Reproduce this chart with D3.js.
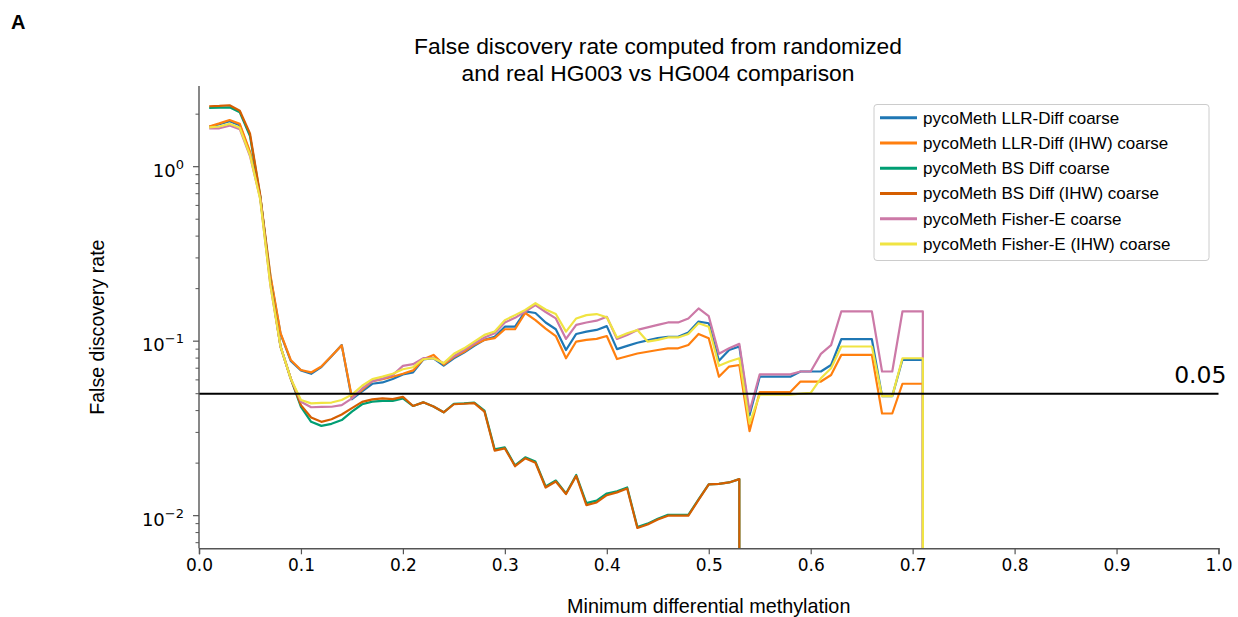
<!DOCTYPE html>
<html>
<head>
<meta charset="utf-8">
<script src="https://cdn.jsdelivr.net/npm/d3@7.9.0/dist/d3.min.js"></script>
<style>
  body { margin: 0; background: #fff; }
  svg { display: block; }
  .tick-label { font-family: "DejaVu Sans", sans-serif; font-size: 17px; fill: #000; }
  .lbl { font-family: "Liberation Sans", Arial, sans-serif; fill: #000; }
</style>
</head>
<body>
<svg id="chart" width="1238" height="617"></svg>
<script>
// x positions (minimum differential methylation)
const xValues = [0.01,0.02,0.03,0.04,0.05,0.06,0.07,0.08,0.09,0.10,
  0.11,0.12,0.13,0.14,0.15,0.16,0.17,0.18,0.19,0.20,
  0.21,0.22,0.23,0.24,0.25,0.26,0.27,0.28,0.29,0.30,
  0.31,0.32,0.33,0.34,0.35,0.36,0.37,0.38,0.39,0.40,
  0.41,0.42,0.43,0.44,0.45,0.46,0.47,0.48,0.49,0.50,
  0.51,0.52,0.53,0.54,0.55,0.56,0.57,0.58,0.59,0.60,
  0.61,0.62,0.63,0.64,0.65,0.66,0.67,0.68,0.69,0.70,
  0.71,0.72];

const llrDiff = [1.69,1.75,1.82,1.73,1.20,0.67,0.235,0.110,0.077,0.068,
  0.065,0.071,0.082,0.095,0.0465,0.0516,0.057,0.058,0.0607,0.0645,
  0.0662,0.0785,0.0798,0.0725,0.0798,0.086,0.094,0.1017,0.106,0.121,
  0.121,0.148,0.145,0.128,0.117,0.089,0.110,0.1135,0.116,0.122,
  0.090,0.094,0.098,0.101,0.104,0.106,0.106,0.112,0.1295,0.1267,
  0.0772,0.089,0.0932,0.0376,0.0626,0.0626,0.0626,0.0626,0.067,0.067,
  0.067,0.073,0.1026,0.1026,0.1026,0.1026,0.0484,0.0484,0.0782,0.0782,
  0.0782,0];

const llrDiffIhw = [1.70,1.77,1.85,1.76,1.22,0.68,0.24,0.111,0.078,0.0684,
  0.0662,0.0716,0.0823,0.0946,0.0476,0.0525,0.059,0.0605,0.0625,0.065,
  0.068,0.0788,0.0834,0.0735,0.081,0.087,0.0955,0.1017,0.104,0.117,
  0.117,0.145,0.132,0.118,0.107,0.0798,0.0995,0.1017,0.103,0.107,
  0.079,0.082,0.085,0.087,0.089,0.091,0.091,0.095,0.110,0.104,
  0.0626,0.0715,0.073,0.0305,0.0511,0.0511,0.0511,0.0511,0.0587,0.0587,
  0.0587,0.064,0.0834,0.0834,0.0834,0.0834,0.0385,0.0385,0.057,0.057,
  0.057,0];

const bsDiff = [2.17,2.18,2.19,2.05,1.50,0.68,0.22,0.093,0.061,0.042,
  0.0345,0.0327,0.0336,0.0353,0.0395,0.0435,0.045,0.0455,0.0455,0.047,
  0.0425,0.0446,0.0422,0.0391,0.0438,0.044,0.0445,0.040,0.024,0.0246,
  0.0194,0.0216,0.0204,0.0147,0.0159,0.0134,0.0171,0.0118,0.0122,0.0134,
  0.0138,0.0145,0.0086,0.009,0.0096,0.0101,0.0101,0.0101,0.0124,0.0151,
  0.0152,0.0155,0.0162,0];

const bsDiffIhw = [2.22,2.23,2.25,2.09,1.55,0.69,0.22,0.093,0.061,0.043,
  0.0365,0.0345,0.0357,0.038,0.0413,0.0449,0.0464,0.047,0.0465,0.0479,
  0.0425,0.0446,0.0422,0.0391,0.0435,0.0438,0.0442,0.0395,0.0236,0.0243,
  0.0192,0.0213,0.0201,0.0145,0.0157,0.0133,0.0169,0.0115,0.0119,0.0131,
  0.0136,0.0143,0.0085,0.0089,0.0095,0.0100,0.0100,0.0100,0.0123,0.0151,
  0.0152,0.0155,0.0162,0];

const fisherE = [1.66,1.66,1.72,1.64,1.15,0.66,0.21,0.093,0.061,0.045,
  0.0418,0.042,0.0421,0.043,0.047,0.0536,0.059,0.061,0.064,0.0722,
  0.0738,0.080,0.0798,0.0748,0.082,0.089,0.097,0.105,0.111,0.128,
  0.136,0.148,0.161,0.147,0.135,0.103,0.124,0.128,0.131,0.138,
  0.103,0.1086,0.116,0.12,0.124,0.128,0.128,0.135,0.154,0.139,
  0.0846,0.091,0.0965,0.0395,0.0645,0.0645,0.0645,0.0645,0.067,0.067,
  0.0846,0.095,0.148,0.148,0.148,0.148,0.067,0.067,0.148,0.148,
  0.148,0];

const fisherEIhw = [1.68,1.70,1.76,1.67,1.17,0.65,0.21,0.093,0.061,0.046,
  0.044,0.0443,0.0445,0.046,0.0494,0.0555,0.0606,0.0626,0.065,0.069,
  0.0709,0.0788,0.0798,0.0748,0.0846,0.091,0.0995,0.1086,0.1135,0.132,
  0.141,0.151,0.165,0.152,0.143,0.1135,0.135,0.141,0.143,0.137,
  0.105,0.111,0.116,0.0995,0.1017,0.105,0.105,0.11,0.1267,0.121,
  0.0722,0.0764,0.0798,0.0338,0.0494,0.0494,0.0494,0.0494,0.050,0.0505,
  0.0613,0.070,0.0932,0.0932,0.0932,0.0932,0.0484,0.0484,0.0798,0.0798,
  0.0798,0];

const seriesNames = [
  "pycoMeth LLR-Diff coarse",
  "pycoMeth LLR-Diff (IHW) coarse",
  "pycoMeth BS Diff coarse",
  "pycoMeth BS Diff (IHW) coarse",
  "pycoMeth Fisher-E coarse",
  "pycoMeth Fisher-E (IHW) coarse"
];
const seriesValues = [llrDiff, llrDiffIhw, bsDiff, bsDiffIhw, fisherE, fisherEIhw];
const seriesColors = ["#1f77b4", "#ff7f0e", "#009e73", "#d55e00", "#cc79a7", "#f0e442"];

const xTicks = [0, 0.1, 0.2, 0.3, 0.4, 0.5, 0.6, 0.7, 0.8, 0.9, 1.0];
const yMajor = [0.01, 0.1, 1];
const yMajorExp = ["\u22122", "\u22121", "0"];
const threshold = 0.05;

const svg = d3.select("#chart");
const plotLeft = 199, plotRight = 1218.5, plotTop = 86, plotBottom = 548.3;

const x = d3.scaleLinear().domain([0, 1]).range([plotLeft, plotRight]);
const y = d3.scaleLog().domain([0.0065, 2.9]).range([plotBottom, plotTop]);

svg.append("clipPath").attr("id", "plotclip")
  .append("rect").attr("x", plotLeft).attr("y", plotTop)
  .attr("width", plotRight - plotLeft).attr("height", plotBottom - plotTop);

// "A" panel tag
svg.append("text").attr("class", "lbl")
  .attr("x", 11).attr("y", 29)
  .style("font-size", "20px").style("font-weight", "bold")
  .text("A");

// title
const title = svg.append("text").attr("class", "lbl")
  .attr("text-anchor", "middle").style("font-size", "22.8px");
title.append("tspan").attr("x", 658).attr("y", 54)
  .text("False discovery rate computed from randomized");
title.append("tspan").attr("x", 658).attr("y", 81)
  .text("and real HG003 vs HG004 comparison");

// lines (zero values are clipped like matplotlib's log scale)
const line = d3.line()
  .x((d, i) => x(xValues[i]))
  .y(d => y(Math.max(d, 1e-300)));

const plot = svg.append("g").attr("clip-path", "url(#plotclip)");
seriesValues.forEach((vals, k) => {
  plot.append("path")
    .datum(vals)
    .attr("d", line)
    .attr("fill", "none")
    .attr("stroke", seriesColors[k])
    .attr("stroke-width", 2.2)
    .attr("stroke-linejoin", "round");
});

// 0.05 threshold line
svg.append("line")
  .attr("x1", plotLeft).attr("x2", plotRight)
  .attr("y1", y(threshold)).attr("y2", y(threshold))
  .attr("stroke", "#000").attr("stroke-width", 2);
svg.append("text").attr("class", "tick-label")
  .attr("x", plotRight + 8).attr("y", y(threshold) - 11)
  .attr("text-anchor", "end")
  .style("font-size", "23.5px")
  .text("0.05");

// x axis
const xAxis = svg.append("g")
  .attr("transform", `translate(0,${plotBottom})`)
  .call(d3.axisBottom(x).tickValues(xTicks).tickFormat(d3.format(".1f")).tickSize(6).tickPadding(5));
xAxis.select(".domain").attr("stroke", "#555").attr("stroke-width", 1.4);
xAxis.selectAll(".tick line").attr("stroke", "#555").attr("stroke-width", 1.2);
xAxis.selectAll(".tick text").attr("class", "tick-label").attr("fill", "#000");

// y axis: minor ticks
const yMinor = y.ticks().filter(v => !yMajor.some(m => Math.abs(m - v) < 1e-12));
const yAxis = svg.append("g").attr("transform", `translate(${plotLeft},0)`);
yAxis.append("line")
  .attr("x1", 0).attr("x2", 0).attr("y1", plotTop).attr("y2", plotBottom)
  .attr("stroke", "#555").attr("stroke-width", 1.4);
yAxis.selectAll(".minor").data(yMinor).join("line")
  .attr("class", "minor")
  .attr("x1", -3.5).attr("x2", 0)
  .attr("y1", d => y(d)).attr("y2", d => y(d))
  .attr("stroke", "#555").attr("stroke-width", 1);
yAxis.selectAll(".major").data(yMajor).join("line")
  .attr("class", "major")
  .attr("x1", -6).attr("x2", 0)
  .attr("y1", d => y(d)).attr("y2", d => y(d))
  .attr("stroke", "#555").attr("stroke-width", 1.2);
yMajor.forEach((v, i) => {
  const t = yAxis.append("text").attr("class", "tick-label")
    .attr("text-anchor", "end")
    .style("font-size", "18px")
    .attr("x", -15).attr("y", y(v) + 10);
  t.append("tspan").text("10");
  t.append("tspan").attr("dy", -8).style("font-size", "13px").text(yMajorExp[i]);
});

// axis labels
svg.append("text").attr("class", "lbl")
  .attr("text-anchor", "middle")
  .attr("x", (plotLeft + plotRight) / 2).attr("y", 613)
  .style("font-size", "19.8px")
  .text("Minimum differential methylation");
svg.append("text").attr("class", "lbl")
  .attr("text-anchor", "middle")
  .attr("transform", `translate(104,${(plotTop + plotBottom) / 2 + 10}) rotate(-90)`)
  .style("font-size", "19.6px")
  .text("False discovery rate");

// legend
const legend = svg.append("g");
legend.append("rect")
  .attr("x", 874).attr("y", 104.5).attr("width", 335).attr("height", 156)
  .attr("rx", 3).attr("fill", "#fff").attr("fill-opacity", 0.8)
  .attr("stroke", "#ccc").attr("stroke-width", 1);
seriesNames.forEach((name, i) => {
  const cy = 117.7 + i * 25.25;
  legend.append("line")
    .attr("x1", 880).attr("x2", 917).attr("y1", cy).attr("y2", cy)
    .attr("stroke", seriesColors[i]).attr("stroke-width", 3);
  legend.append("text").attr("class", "lbl")
    .attr("x", 923).attr("y", cy + 6)
    .style("font-size", "17px")
    .text(name);
});
</script>
</body>
</html>
